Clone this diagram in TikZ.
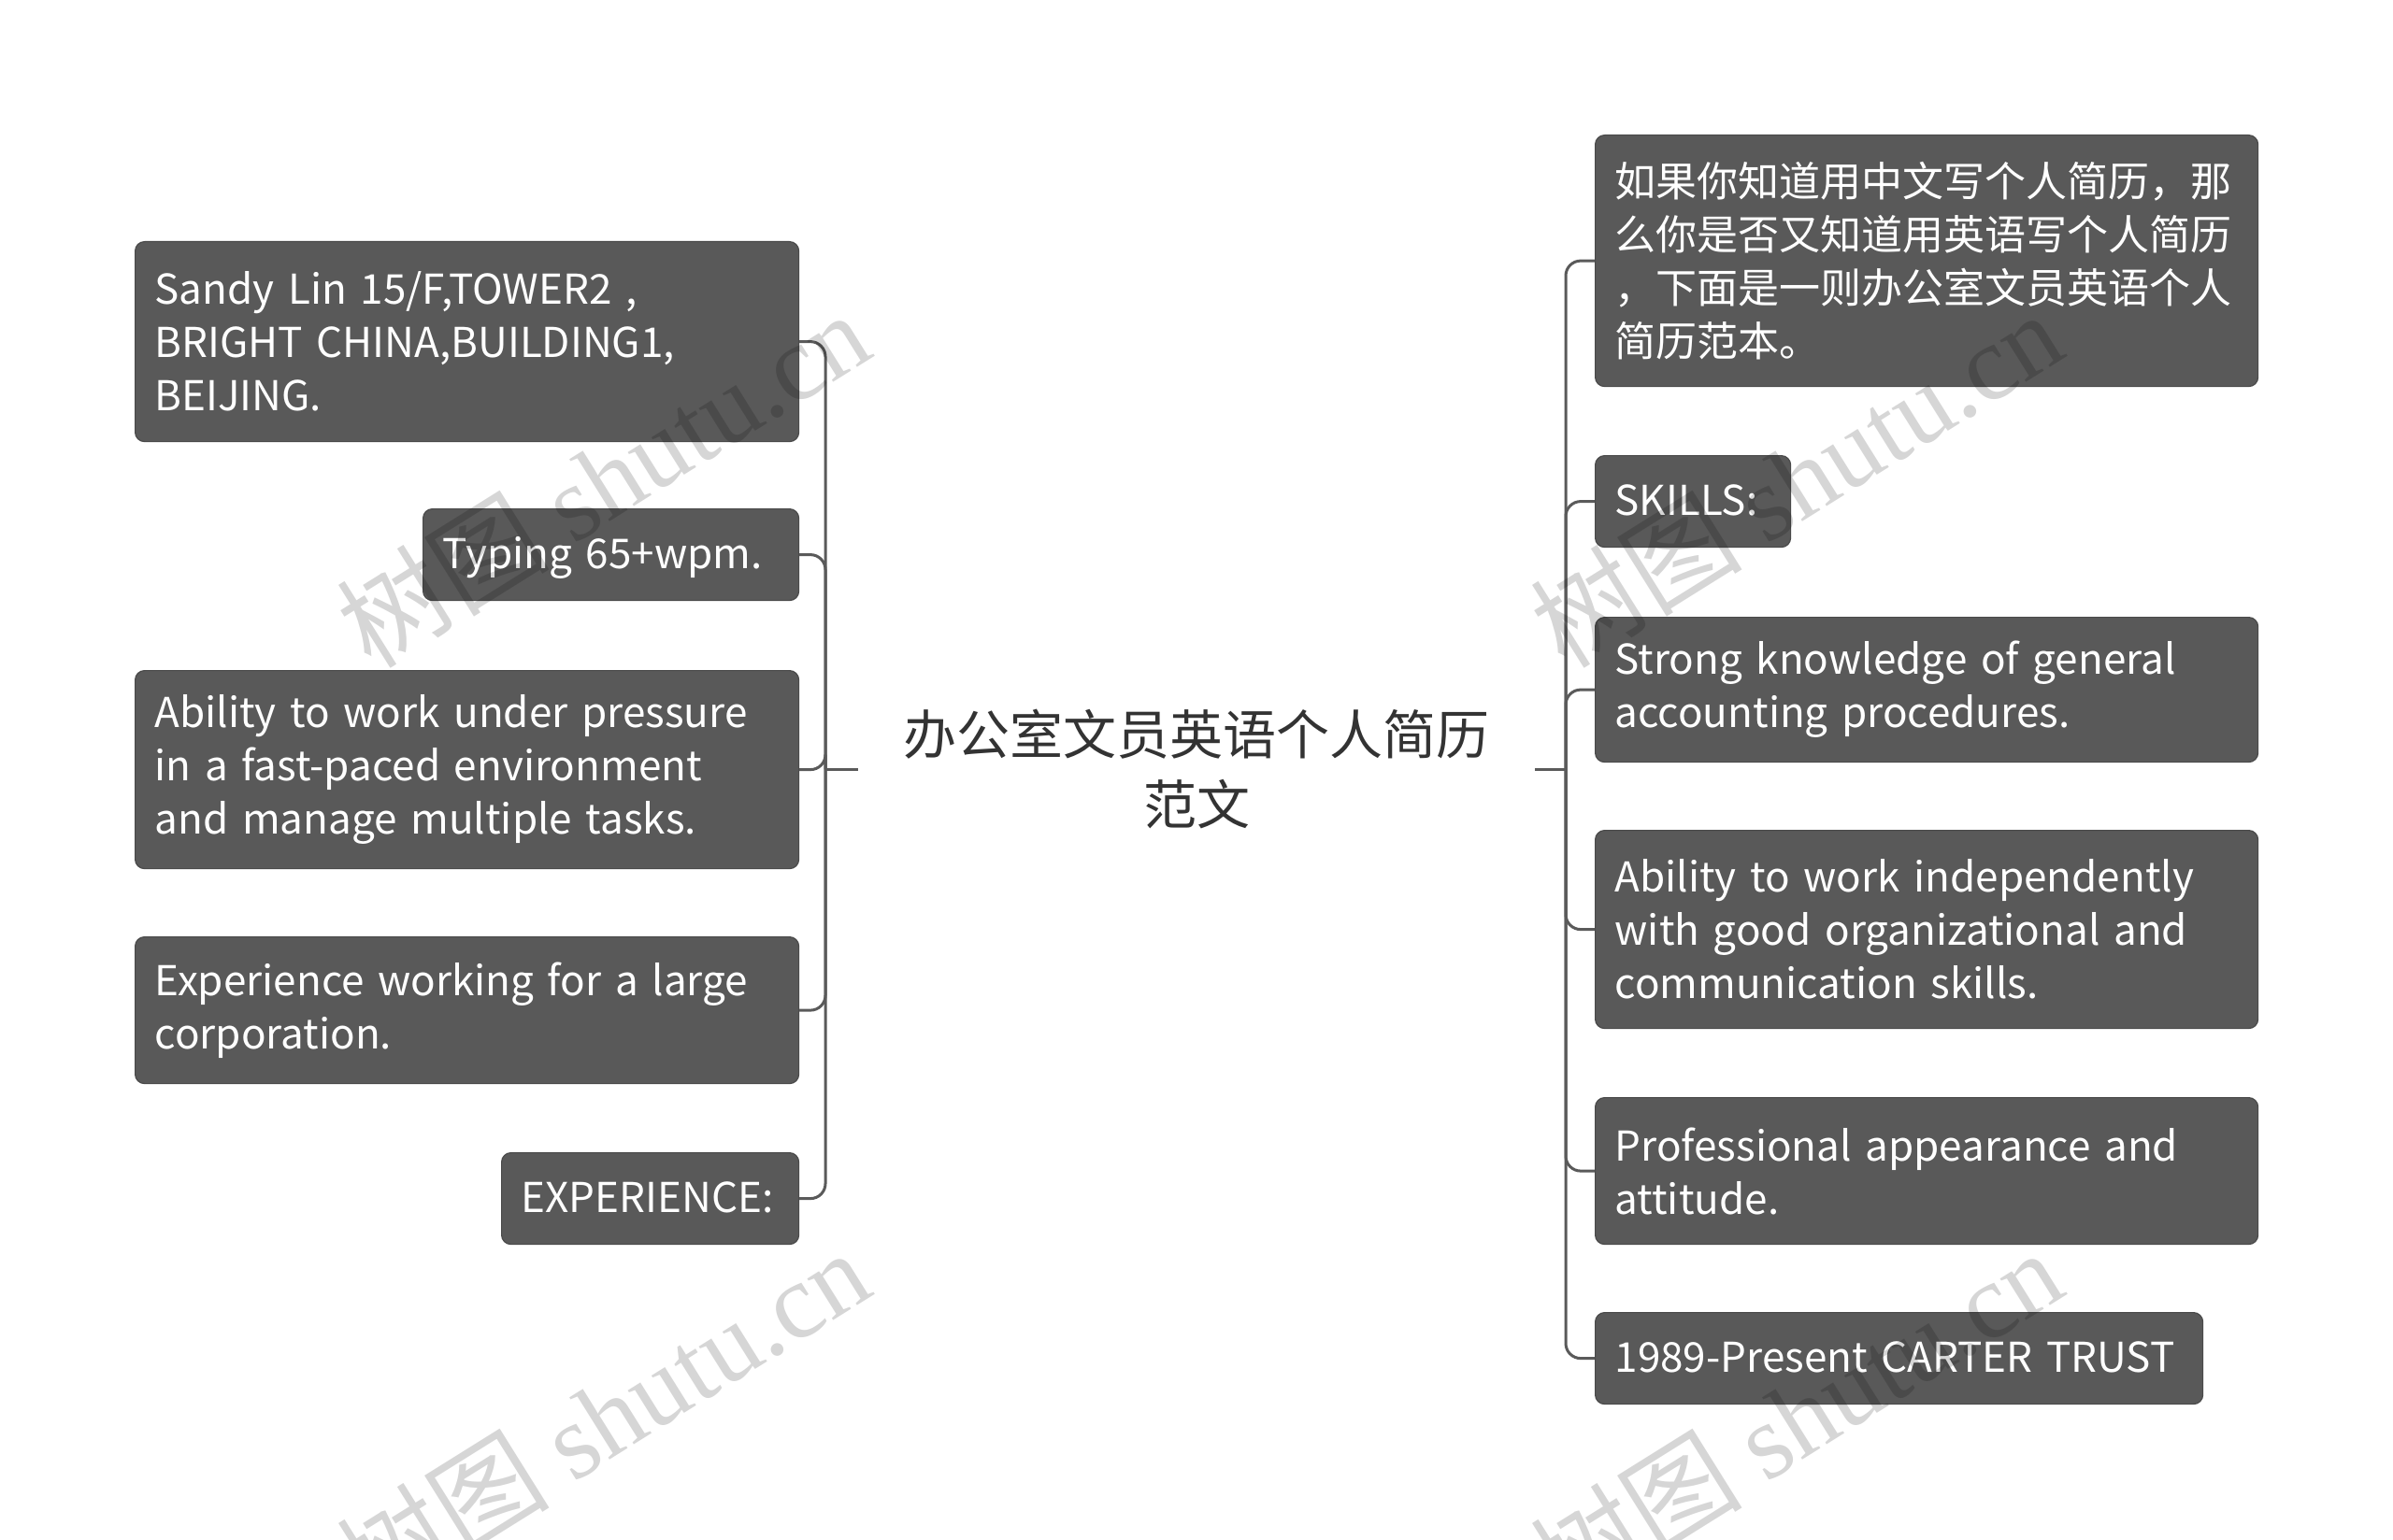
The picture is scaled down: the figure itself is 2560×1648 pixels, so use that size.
\documentclass[tikz,border=0pt]{standalone}
\usepackage{fontspec}
\setmainfont{Noto Sans CJK SC}
\newfontfamily\wmcjk{Noto Sans CJK SC}
\newfontfamily\wmserif{Liberation Serif}
\definecolor{boxfill}{HTML}{595959}
\definecolor{boxline}{HTML}{4A4A4A}
\definecolor{connc}{HTML}{5A5A5A}
\definecolor{roottext}{HTML}{333333}
\tikzset{
  x=0.5pt, y=-0.5pt,
  nbox/.style={anchor=north west, fill=boxfill, draw=boxline, line width=0.6pt,
    rounded corners=5pt, text=white, inner xsep=10.5pt, inner ysep=0pt,
    align=left, font=\fontsize{22pt}{28.5pt}\selectfont},
  oneline/.style={text height=14.5pt, text depth=0pt},
  rootnode/.style={text=roottext, inner sep=0pt, minimum width=362pt, align=center,
    font=\fontsize{28.5pt}{37.5pt}\selectfont},
  conn/.style={draw=connc, line width=1.5pt, rounded corners=8pt},
  wm/.style={text=black, opacity=0.16, rotate=32, inner sep=0pt,
    font=\fontsize{57pt}{60pt}\selectfont}
}
\begin{document}
\begin{tikzpicture}
\useasboundingbox (0,0) rectangle (2560,1648);
\clip (0,0) rectangle (2560,1648);
\fill[white] (0,0) rectangle (2560,1648);

% root
\node[rootnode] (root) at (1280,823) {办公室文员英语个人简历\\范文};

% left children
\node[nbox, text width=334pt, minimum height=107pt] (a) at (144,258)
  {Sandy Lin 15/F,TOWER2 ,\\BRIGHT CHINA,BUILDING1,\\BEIJING.};
\node[nbox, oneline, text width=180pt, minimum height=49pt] (b) at (452,544)
  {Typing 65+wpm.};
\node[nbox, text width=334pt, minimum height=106pt] (c) at (144,717)
  {Ability to work under pressure\\in a fast-paced environment\\and manage multiple tasks.};
\node[nbox, text width=334pt, minimum height=78.5pt] (d) at (144,1002)
  {Experience working for a large\\corporation.};
\node[nbox, oneline, text width=138pt, minimum height=49pt] (e) at (536,1233)
  {EXPERIENCE:};

% right children
\node[nbox, text width=333.5pt, minimum height=134.5pt] (r1) at (1706,144)
  {如果你知道用中文写个人简历，那\\么你是否又知道用英语写个人简历\\，下面是一则办公室文员英语个人\\简历范本。};
\node[nbox, oneline, text width=83.5pt, minimum height=49pt] (r2) at (1706,487)
  {SKILLS:};
\node[nbox, text width=333.5pt, minimum height=77.5pt] (r3) at (1706,660)
  {Strong knowledge of general\\accounting procedures.};
\node[nbox, text width=333.5pt, minimum height=106pt] (r4) at (1706,888)
  {Ability to work independently\\with good organizational and\\communication skills.};
\node[nbox, text width=333.5pt, minimum height=78.5pt] (r5) at (1706,1174)
  {Professional appearance and\\attitude.};
\node[nbox, oneline, text width=304pt, minimum height=49pt] (r6) at (1706,1404)
  {1989-Present CARTER TRUST};

% connectors
\coordinate (lj) at (883,823);
\coordinate (rj) at (1675,823);
\draw[conn] (root.west) -- (lj);
\draw[conn] (root.east) -- (rj);
\foreach \n in {a,b,c,d,e} { \draw[conn] (lj) |- (\n.east); }
\foreach \n in {r1,r2,r3,r4,r5,r6} { \draw[conn] (rj) |- (\n.west); }

% watermarks
\node[wm] (w1) at (645,512) {{\wmcjk 树图} {\wmserif shutu.cn}};
\node[wm] (w2) at (1921,512) {{\wmcjk 树图} {\wmserif shutu.cn}};
\node[wm] (w3) at (645,1516) {{\wmcjk 树图} {\wmserif shutu.cn}};
\node[wm] (w4) at (1921,1516) {{\wmcjk 树图} {\wmserif shutu.cn}};
\end{tikzpicture}
\end{document}
